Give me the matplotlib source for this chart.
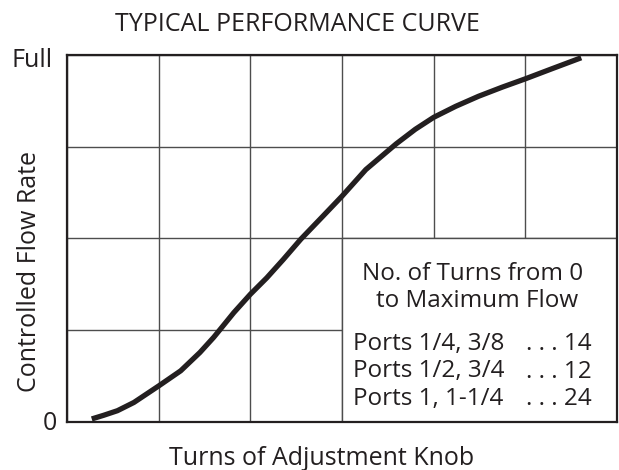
import matplotlib
matplotlib.use("Agg")
import matplotlib.pyplot as plt
from matplotlib.patches import Rectangle

plt.rcParams['font.family'] = ['Open Sans', 'DejaVu Sans']

# Curve (x in grid columns, y in grid rows)
turns = [0.27, 0.40, 0.55, 0.73, 1.00, 1.24, 1.45, 1.60, 1.69, 1.82, 2.00,
         2.18, 2.36, 2.55, 2.79, 3.00, 3.26, 3.59, 3.80, 4.00, 4.24, 4.49,
         4.75, 5.00, 5.29, 5.61]
flow = [0.03, 0.07, 0.12, 0.21, 0.39, 0.555, 0.755, 0.92, 1.03, 1.19, 1.39,
        1.57, 1.77, 1.99, 2.24, 2.46, 2.75, 3.03, 3.19, 3.32, 3.44, 3.55,
        3.65, 3.74, 3.85, 3.97]

title = "TYPICAL PERFORMANCE CURVE"
xlabel = "Turns of Adjustment Knob"
ylabel = "Controlled Flow Rate"
box_head = ["No. of Turns from 0", "to Maximum Flow"]
ports = ["Ports 1/4, 3/8", "Ports 1/2, 3/4", "Ports 1, 1-1/4"]
port_turns = ["14", "12", "24"]

W, H = 619, 470
ink = '#231f20'
fig = plt.figure(figsize=(W / 100, H / 100), dpi=100)
ax = fig.add_axes([67 / W, 1 - 421.7 / H, 550 / W, 366.7 / H])

ax.set_xlim(0, 6)
ax.set_ylim(0, 4)
ax.set_xticks(range(7))
ax.set_yticks(range(5))
ax.tick_params(length=0, labelbottom=False, labelleft=False)
ax.grid(True, color='#4d4d4d', linewidth=1.0)
ax.set_axisbelow(True)
for s in ax.spines.values():
    s.set_linewidth(1.6)
    s.set_color(ink)

# white panel for the table of turns
ax.add_patch(Rectangle((3, 0), 3, 2, facecolor='white', edgecolor='#4d4d4d',
                       linewidth=1.0, zorder=1.5))

ax.plot(turns, flow, color=ink, linewidth=3.8, solid_capstyle='butt',
        solid_joinstyle='round', zorder=3)

fs = 18
fig.text(297.5 / W, 1 - 31 / H, title, ha='center', va='baseline', fontsize=fs, color=ink)
fig.text(322 / W, 1 - 465 / H, xlabel, ha='center', va='baseline', fontsize=fs, color=ink)
fig.text(30 / W, 1 - 271 / H, ylabel, ha='center', va='center', rotation=90, fontsize=fs, color=ink)
fig.text(53 / W, 1 - 67 / H, "Full", ha='right', va='baseline', fontsize=fs, color=ink)
fig.text(57 / W, 1 - 430 / H, "0", ha='right', va='baseline', fontsize=fs, color=ink)

fb = 17.5
fig.text(473 / W, 1 - 280 / H, box_head[0], ha='center', va='baseline', fontsize=fb, color=ink)
fig.text(477 / W, 1 - 307 / H, box_head[1], ha='center', va='baseline', fontsize=fb, color=ink)
for i, (p, n) in enumerate(zip(ports, port_turns)):
    yb = 350 + i * 27.5
    fig.text(353 / W, 1 - yb / H, p, ha='left', va='baseline', fontsize=fb, color=ink)
    fig.text(592 / W, 1 - yb / H, ". . . " + n, ha='right', va='baseline', fontsize=fb, color=ink)

fig.savefig("out.png", dpi=100)
